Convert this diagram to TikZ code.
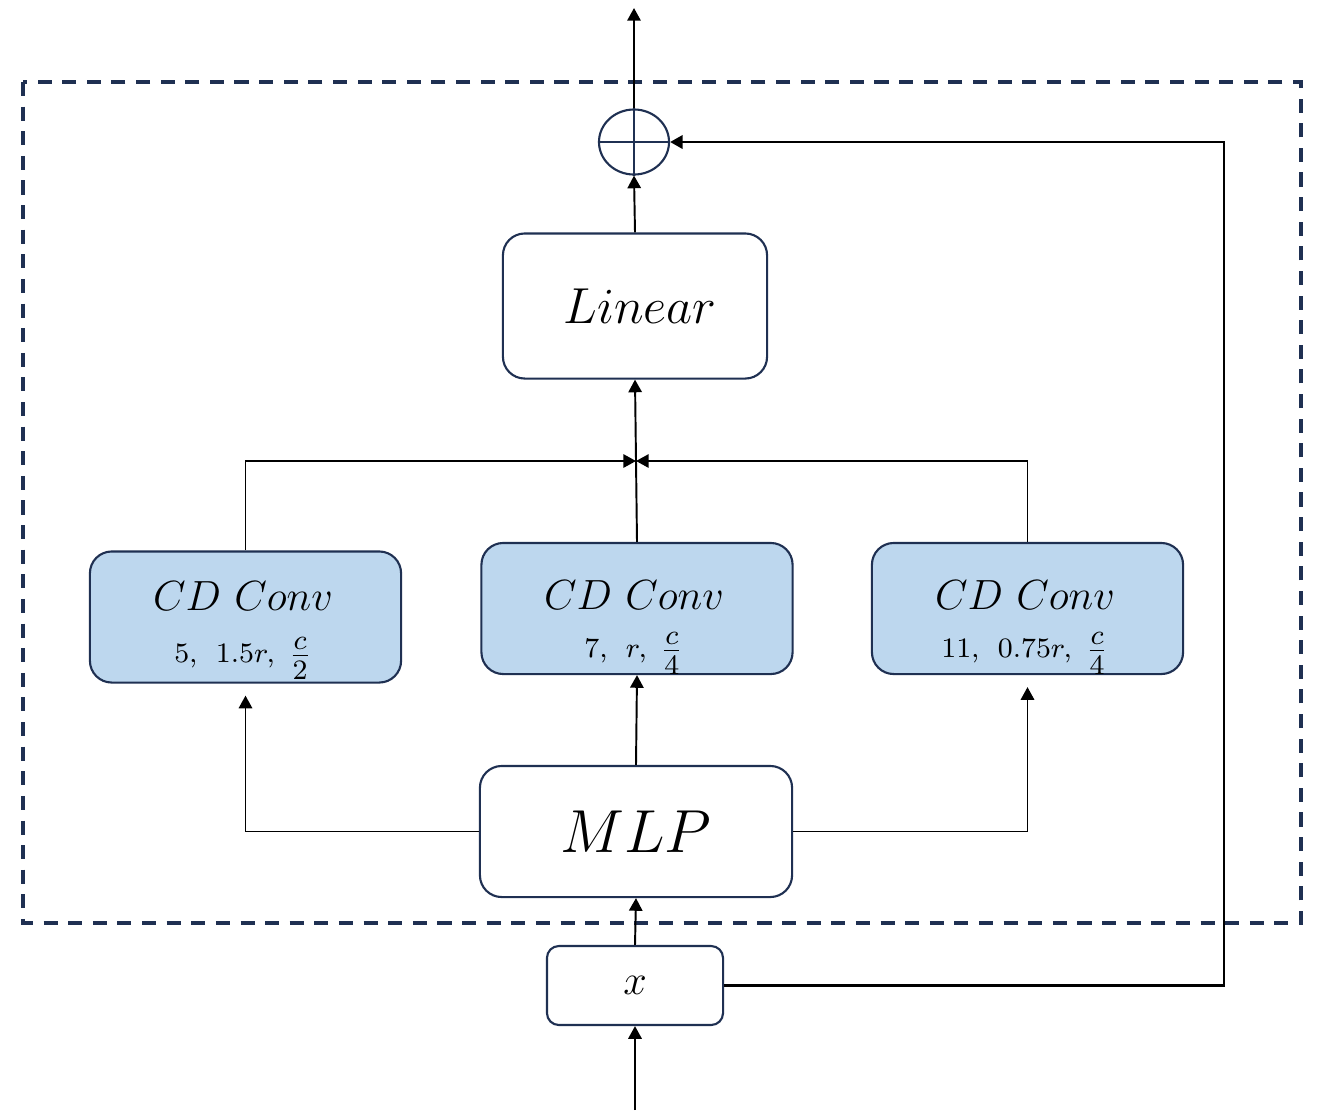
\documentclass[tikz,border=0pt]{standalone}
\usepackage{tikz}
\usetikzlibrary{arrows.meta, shapes.geometric, positioning}
\definecolor{NetNavy}{RGB}{31,48,82}
\definecolor{ConvBlue}{RGB}{189,215,238}
\newcommand{\bigfrac}[2]{{\fontsize{8.2}{10}\selectfont$\frac{\raisebox{0.5pt}{$\textstyle #1$}}{\textstyle #2\rule{0pt}{6.2pt}}$}}

\begin{document}
\begin{tikzpicture}[
    x=0.01cm, y=-0.01cm,
    box/.style = {rectangle, draw=NetNavy, line width=0.6pt, fill=white, inner sep=0pt, rounded corners=6.2pt},
    plain/.style = {box, minimum width=2.64cm, minimum height=1.45cm, font=\fontsize{14}{16}\selectfont},
    conv/.style = {box, fill=ConvBlue, minimum width=3.11cm, minimum height=1.31cm},
    mlpbox/.style = {box, minimum width=3.12cm, minimum height=1.31cm, font=\fontsize{16}{18}\selectfont},
    inbox/.style = {box, rounded corners=3.4pt, minimum width=1.76cm, minimum height=0.79cm, font=\fontsize{12}{14}\selectfont},
    ttl/.style = {inner sep=0pt, font=\fontsize{11.6}{13}\selectfont},
    prm/.style = {inner sep=0pt, font=\fontsize{7.6}{9}\selectfont},
    sumnode/.style = {ellipse, draw=NetNavy, line width=0.6pt, minimum width=0.7cm, minimum height=0.65cm, inner sep=0pt},
    frame/.style = {draw=NetNavy, line width=1pt, dash pattern=on 4pt off 3pt},
    arr/.style = {line width=0.55pt, -{Triangle[length=3.6pt, width=3.8pt]}}
]
\useasboundingbox (0,0) rectangle (1318,1114);
% Dashed block border
\draw[frame] (23,82) rectangle (1301,923);
% Summation
\node[sumnode] (sum) at (634,142) {};
\draw[NetNavy, line width=0.6pt] (sum.north) -- (sum.south) (sum.west) -- (sum.east);
% Main boxes
\node[plain] (lin) at (635,306) {\hspace{0.1cm}$Linear$};
\node[conv] (cdl) at (245.5,617) {};
\node[conv] (cdm) at (637,608.5) {};
\node[conv] (cdr) at (1027.5,608.5) {};
\node[mlpbox] (mlp) at (636,831.5) {$MLP$};
\node[inbox] (xin) at (635,985.5) {$x$};
% Conv labels
\node[ttl] (cdlt) at (243,596) {$CD\ Conv$};
\node[prm] (cdlp) at (243,658) {$5,\enspace 1.5r,\enspace$\bigfrac{c}{2}};
\node[ttl] (cdmt) at (634,595) {$CD\ Conv$};
\node[prm] (cdmp) at (634,653) {$7,\enspace r,\enspace$\bigfrac{c}{4}};
\node[ttl] (cdrt) at (1025,595) {$CD\ Conv$};
\node[prm] (cdrp) at (1025,653) {$11,\enspace 0.75r,\enspace$\bigfrac{c}{4}};
% Free ends
\coordinate (jn) at (636,461);
\coordinate (out) at (634,8);
\coordinate (inp) at (635,1110);
\coordinate (skipr) at (1224,560);
% Connectors
\draw[arr] (sum.north) -- (out);
\draw[arr] (lin.north) -- (sum.south);
\draw[arr] (cdm.north) -- (lin.south);
\draw[arr] (cdl.north) |- (jn);
\draw[arr] (cdr.north) |- (jn);
\draw[arr, shorten >=0.12cm] (mlp.west) -| (cdl.south);
\draw[arr] (mlp.north) -- (cdm.south);
\draw[arr, shorten >=0.12cm] (mlp.east) -| (cdr.south);
\draw[arr] (xin.north) -- (mlp.south);
\draw[arr] (inp) -- (xin.south);
\draw[arr, line width=0.8pt] (xin.east) -| (skipr) |- (sum.east);
\end{tikzpicture}
\end{document}
